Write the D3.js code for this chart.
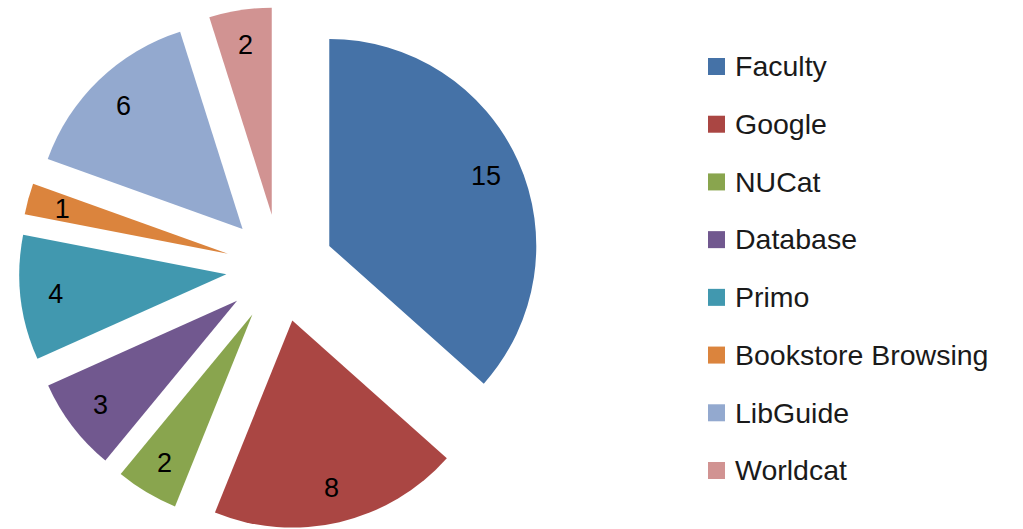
<html>
<head>
    <script src="https://d3js.org/d3.v7.min.js"></script>
    <style>
        body { margin: 0; background: #fff; }
        svg { font-family: "Liberation Sans", Arial, sans-serif; }
        .slice-label { font-size: 27px; fill: #000; }
        .legend-text { font-size: 28.5px; fill: #1a1a1a; }
    </style>
</head>
<body>
<div id="chart"></div>
<script>
    var categories = ["Faculty", "Google", "NUCat", "Database", "Primo", "Bookstore Browsing", "LibGuide", "Worldcat"];
    var counts = [15, 8, 2, 3, 4, 1, 6, 2];
    var colors = ["#4572A7", "#AA4643", "#89A54E", "#71588F", "#4198AF", "#DB843D", "#93A9CF", "#D19392"];

    var width = 1023;
    var height = 529;
    var cx = 280, cy = 268;
    var radius = 207;
    var explode = 54;

    var data = categories.map(function(c, i) { return { name: c, value: counts[i], color: colors[i] }; });

    var svg = d3.select("#chart").append("svg")
        .attr("width", width)
        .attr("height", height);

    var pie = d3.pie().sort(null).value(d => d.value);
    var arc = d3.arc().innerRadius(0).outerRadius(radius);
    var labelArc = d3.arc().innerRadius(radius * 0.83).outerRadius(radius * 0.83);

    var g = svg.append("g").attr("transform", `translate(${cx}, ${cy})`);

    var slices = g.selectAll(".slice")
        .data(pie(data)).enter()
        .append("g")
        .attr("class", "slice")
        .attr("transform", function(d) {
            var a = (d.startAngle + d.endAngle) / 2;
            return `translate(${Math.sin(a) * explode}, ${-Math.cos(a) * explode})`;
        });

    slices.append("path")
        .attr("d", arc)
        .style("fill", d => d.data.color);

    slices.append("text")
        .attr("class", "slice-label")
        .attr("transform", d => `translate(${labelArc.centroid(d)})`)
        .attr("text-anchor", "middle")
        .attr("dy", "0.35em")
        .text(d => d.data.value);

    /* legend */
    var legendY = d3.scalePoint()
        .domain(categories)
        .range([66, 470]);

    var legend = svg.append("g").attr("class", "legend")
        .selectAll("g")
        .data(data).enter()
        .append("g")
        .attr("transform", d => `translate(708, ${legendY(d.name)})`);

    legend.append("rect")
        .attr("x", 0)
        .attr("y", -8)
        .attr("width", 17)
        .attr("height", 17)
        .style("fill", d => d.color);

    legend.append("text")
        .attr("class", "legend-text")
        .attr("x", 27)
        .attr("dy", "0.36em")
        .text(d => d.name);
</script>
</body>
</html>
